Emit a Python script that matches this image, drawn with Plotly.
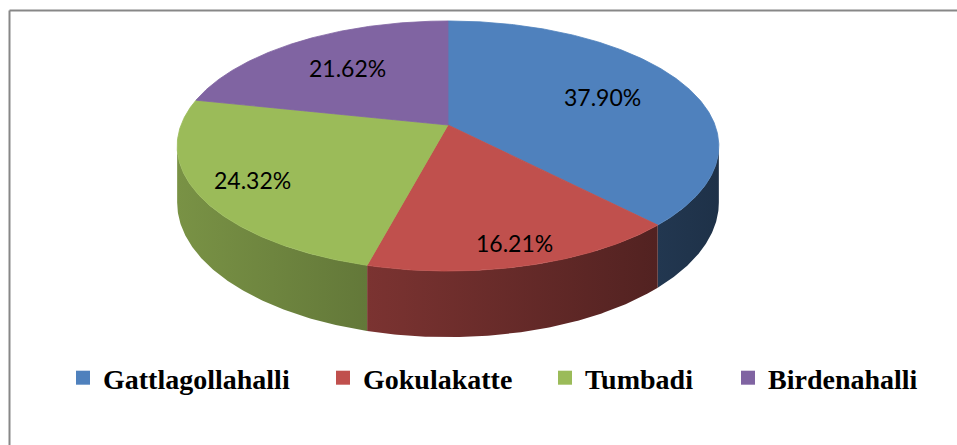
import numpy as np
import plotly.graph_objects as go

# ---- data ----
categories = ["Gattlagollahalli", "Gokulakatte", "Tumbadi", "Birdenahalli"]
shares = [37.90, 16.21, 24.32, 21.62]
labels = ["37.90%", "16.21%", "24.32%", "21.62%"]
colors = ["#4F81BD", "#C0504D", "#9BBB59", "#8064A2"]

# ---- geometry / style ----
W, H = 957, 445
CX, CY = 448, 125          # projected centre of the pie top
R, S, K, DEPTH = 267, 121.5, 0.168, 55
label_r = [0.65, 0.86, 0.80, 0.65]
legend_x_px = [63, 323, 545, 728]


def hex2rgb(h):
    h = h.lstrip("#")
    return tuple(int(h[i:i + 2], 16) for i in (0, 2, 4))


def proj(theta_deg, r=1.0, zdown=0.0):
    th = np.radians(theta_deg)
    u = r * np.sin(th)
    v = r * np.cos(th)
    d = 1 + K * v
    x = CX + R * u / d
    y = CY + (-S * v + DEPTH * zdown) / d
    return x, y


def shade(base, x):
    f = 0.58 - 0.2 * (x - CX) / 271.0
    f = min(max(f, 0.3), 0.85)
    return "rgb(%d,%d,%d)" % tuple(int(round(b * f)) for b in base)


total = sum(shares)
bounds = np.concatenate([[0], np.cumsum(shares) / total * 360.0])
TH_R = np.degrees(np.arccos(-K))
TH_L = 360 - TH_R

fig = go.Figure()

# side walls (horizontal gradient fills)
for i in range(len(shares)):
    a0, a1 = bounds[i], bounds[i + 1]
    s0, s1 = max(a0, TH_R), min(a1, TH_L)
    if s1 <= s0:
        continue
    ts = np.linspace(s0, s1, max(4, int((s1 - s0) * 2)))
    xt, yt = proj(ts)
    xb, yb = proj(ts[::-1], zdown=1.0)
    xs = np.concatenate([xt, xb, xt[:1]])
    ys = np.concatenate([yt, yb, yt[:1]])
    base = hex2rgb(colors[i])
    xmin, xmax = float(xs.min()), float(xs.max())
    cmid = shade(base, (xmin + xmax) / 2)
    fig.add_trace(go.Scatter(
        x=xs, y=ys, mode="lines", fill="toself", fillcolor=cmid,
        fillgradient=dict(type="horizontal", start=xmin, stop=xmax,
                          colorscale=[[0, shade(base, xmin)], [1, shade(base, xmax)]]),
        line=dict(width=0), hoverinfo="skip", showlegend=False))

# top faces
for i in range(len(shares)):
    a0, a1 = bounds[i], bounds[i + 1]
    ts = np.linspace(a0, a1, max(3, int((a1 - a0) * 2)))
    xa, ya = proj(ts)
    xs = np.concatenate([[CX], xa, [CX]])
    ys = np.concatenate([[CY], ya, [CY]])
    fig.add_trace(go.Scatter(x=xs, y=ys, mode="lines", fill="toself",
                             fillcolor=colors[i], line=dict(color=colors[i], width=0.8),
                             hoverinfo="skip", showlegend=False))

# legend entries (one legend per entry to reproduce spacing)
legend_font = dict(family="Liberation Serif", size=28, color="black", weight="bold")
legend_layouts = {}
for i, (cat, c) in enumerate(zip(categories, colors)):
    lname = "legend" if i == 0 else "legend%d" % (i + 1)
    fig.add_trace(go.Scatter(x=[None], y=[None], mode="markers", name=cat, legend=lname,
                             marker=dict(symbol="square", size=14, color=c)))
    legend_layouts[lname] = dict(orientation="h", x=legend_x_px[i] / W, y=1 - 378 / H,
                                 xanchor="left", yanchor="middle", font=legend_font,
                                 bgcolor="rgba(0,0,0,0)", itemclick=False,
                                 itemdoubleclick=False)

# data labels
for i in range(len(shares)):
    mid = (bounds[i] + bounds[i + 1]) / 2
    lx, ly = proj(mid, r=label_r[i])
    fig.add_annotation(x=lx, y=ly, text=labels[i], showarrow=False,
                       font=dict(family="Lato", size=23, color="black"))

# chart frame (top and left edges visible)
fig.add_shape(type="line", xref="x", yref="y", x0=9.5, y0=10.5, x1=W, y1=10.5,
              line=dict(color="#878787", width=2), layer="below")
fig.add_shape(type="line", xref="x", yref="y", x0=9.5, y0=10.5, x1=9.5, y1=H,
              line=dict(color="#878787", width=2), layer="below")

fig.update_layout(
    width=W, height=H, margin=dict(l=0, r=0, t=0, b=0),
    paper_bgcolor="white", plot_bgcolor="white",
    xaxis=dict(range=[0, W], visible=False, fixedrange=True),
    yaxis=dict(range=[H, 0], visible=False, fixedrange=True),
    showlegend=True,
    **legend_layouts,
)

fig.write_html("out.html")
